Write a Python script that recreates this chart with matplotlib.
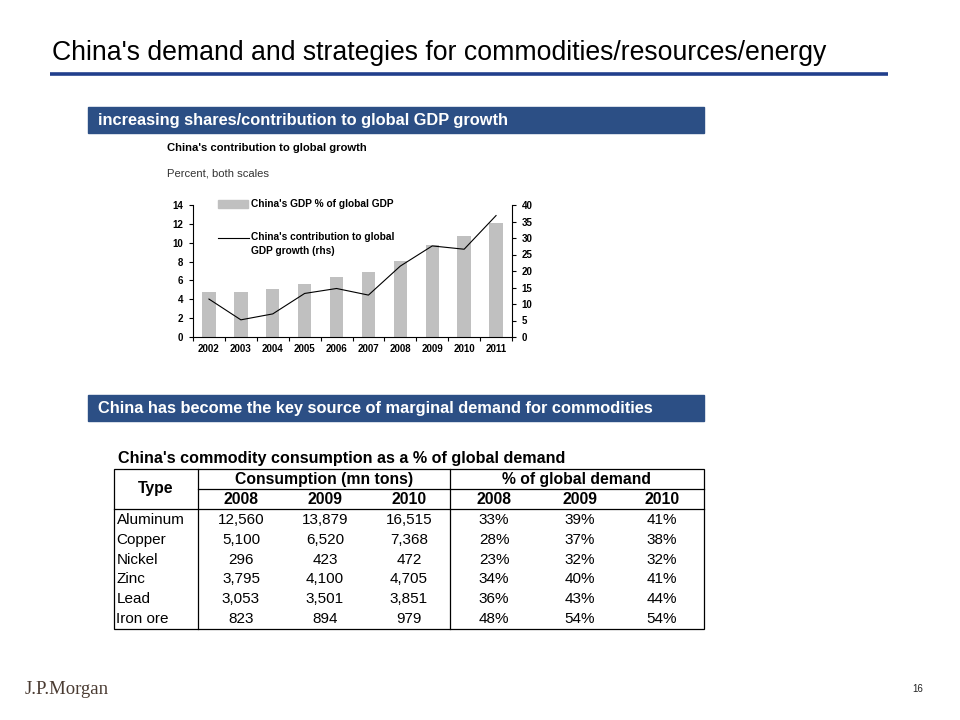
import matplotlib
matplotlib.use('Agg')
import matplotlib.pyplot as plt
from matplotlib.patches import Rectangle
from matplotlib.ticker import FixedLocator

# ---------------- data ----------------
years = ['2002', '2003', '2004', '2005', '2006', '2007', '2008', '2009', '2010', '2011']
gdp_share = [4.75, 4.75, 5.07, 5.6, 6.35, 6.88, 8.08, 9.74, 10.7, 12.08]
gdp_contrib = [11.5, 5.2, 7.0, 13.2, 14.7, 12.7, 21.5, 27.6, 26.6, 36.8]
left_ticks = [0, 2, 4, 6, 8, 10, 12, 14]
right_ticks = [0, 5, 10, 15, 20, 25, 30, 35, 40]

commodities = ['Aluminum', 'Copper', 'Nickel', 'Zinc', 'Lead', 'Iron ore']
table_years = ['2008', '2009', '2010']
cons_2008 = ['12,560', '5,100', '296', '3,795', '3,053', '823']
cons_2009 = ['13,879', '6,520', '423', '4,100', '3,501', '894']
cons_2010 = ['16,515', '7,368', '472', '4,705', '3,851', '979']
share_2008 = ['33%', '28%', '23%', '34%', '36%', '48%']
share_2009 = ['39%', '37%', '32%', '40%', '43%', '54%']
share_2010 = ['41%', '38%', '32%', '41%', '44%', '54%']

plt.rcParams['font.family'] = ['Liberation Sans', 'DejaVu Sans']

BLUE = '#2C4F85'
GREY = '#C0C0C0'

fig = plt.figure(figsize=(9.6, 7.2), dpi=100)
bg = fig.add_axes([0, 0, 1, 1])
bg.set_xlim(0, 960)
bg.set_ylim(720, 0)
bg.axis('off')

# ---------------- page title ----------------
bg.text(52, 53, "China's demand and strategies for commodities/resources/energy",
        fontsize=19.2, va='center', ha='left', color='black')
bg.plot([50, 888], [73.5, 73.5], color='#213F8C', lw=2.6, solid_capstyle='butt')

# ---------------- section headers ----------------
bg.add_patch(Rectangle((88, 107), 616, 26, color=BLUE))
bg.text(98, 120, 'increasing shares/contribution to global GDP growth',
        fontsize=11.8, fontweight='bold', color='white', va='center', ha='left')
bg.add_patch(Rectangle((88, 395), 616, 26, color=BLUE))
bg.text(98, 408, 'China has become the key source of marginal demand for commodities',
        fontsize=11.8, fontweight='bold', color='white', va='center', ha='left')

# ---------------- chart ----------------
bg.text(167, 148, "China's contribution to global growth", fontsize=8.1, fontweight='bold',
        va='center', ha='left')
bg.text(167, 173, 'Percent, both scales', fontsize=8.1, color='#333333', va='center', ha='left')

ax = fig.add_axes([193 / 960, (720 - 337) / 720, (512 - 193) / 960, (337 - 205) / 720])
x = list(range(len(years)))
ax.bar(x, gdp_share, width=0.42, color=GREY, zorder=2)
ax.set_xlim(-0.5, len(years) - 0.5)
ax.set_ylim(left_ticks[0], left_ticks[-1])
ax.set_yticks(left_ticks)
ax.set_xticks(x)
ax.set_xticklabels(years)
ax.xaxis.set_minor_locator(FixedLocator([i - 0.5 for i in range(len(years) + 1)]))
ax.tick_params(axis='x', which='major', length=0, pad=5, labelsize=7)
ax.tick_params(axis='x', which='minor', length=3, direction='out', width=0.8)
ax.tick_params(axis='y', length=3, direction='out', width=0.8, labelsize=7, pad=4)
for lab in ax.get_xticklabels() + ax.get_yticklabels():
    lab.set_fontweight('bold')
ax.spines['top'].set_visible(False)
ax.spines['right'].set_visible(False)
for s in ['left', 'bottom']:
    ax.spines[s].set_linewidth(0.8)

ax2 = ax.twinx()
ax2.plot(x, gdp_contrib, color='black', lw=0.8, zorder=3)
ax2.set_ylim(right_ticks[0], right_ticks[-1])
ax2.set_yticks(right_ticks)
ax2.tick_params(axis='y', length=3, direction='out', width=0.8, labelsize=7, pad=4)
for lab in ax2.get_yticklabels():
    lab.set_fontweight('bold')
for s in ['top', 'left', 'bottom']:
    ax2.spines[s].set_visible(False)
ax2.spines['right'].set_linewidth(0.8)

# legend on a transparent overlay above the chart
fg = fig.add_axes([0, 0, 1, 1], zorder=20)
fg.set_xlim(0, 960)
fg.set_ylim(720, 0)
fg.axis('off')
fg.patch.set_visible(False)
fg.add_patch(Rectangle((218, 200), 30, 8, color=GREY))
fg.text(251, 204, "China's GDP % of global GDP", fontsize=7.3, fontweight='bold', va='center', ha='left')
fg.plot([218, 249], [237.5, 237.5], color='black', lw=0.8)
fg.text(251, 237.5, "China's contribution to global", fontsize=7.3, fontweight='bold', va='center', ha='left')
fg.text(251, 251.5, 'GDP growth (rhs)', fontsize=7.3, fontweight='bold', va='center', ha='left')

# ---------------- table ----------------
bg.text(118, 459, "China's commodity consumption as a % of global demand",
        fontsize=11.6, fontweight='bold', va='center', ha='left')

L, R, T, B = 114, 704, 469, 629
c1, c2 = 198, 450
h_mid, h_bot = 488.5, 509
lw = 0.9
bg.add_patch(Rectangle((L, T), R - L, B - T, fill=False, ec='black', lw=lw))
bg.plot([c1, R], [h_mid, h_mid], color='black', lw=lw)
bg.plot([L, R], [h_bot, h_bot], color='black', lw=lw)
bg.plot([c1, c1], [T, B], color='black', lw=lw)
bg.plot([c2, c2], [T, B], color='black', lw=lw)

HS = 11.3
bg.text((L + c1) / 2, (T + h_bot) / 2, 'Type', fontsize=HS, fontweight='bold', ha='center', va='center')
bg.text((c1 + c2) / 2, (T + h_mid) / 2 + 0.5, 'Consumption (mn tons)', fontsize=HS, fontweight='bold',
        ha='center', va='center')
bg.text((c2 + R) / 2, (T + h_mid) / 2 + 0.5, '% of global demand', fontsize=HS, fontweight='bold',
        ha='center', va='center')

cons_x = [241, 325, 409]
share_x = [494, 580, 662]
for xx, yr in zip(cons_x + share_x, table_years + table_years):
    bg.text(xx, 499.5, yr, fontsize=HS, fontweight='bold', ha='center', va='center')

columns = [cons_2008, cons_2009, cons_2010, share_2008, share_2009, share_2010]
row_y0, row_dy = 520, 19.8
DS = 11
for i, name in enumerate(commodities):
    yy = row_y0 + i * row_dy
    bg.text(116.5, yy, name, fontsize=DS, ha='left', va='center')
    for xx, col in zip(cons_x + share_x, columns):
        bg.text(xx, yy, col[i], fontsize=DS, ha='center', va='center')

# ---------------- footer ----------------
bg.text(25, 689, 'J.P.Morgan', fontsize=13.5, color='#4A3B32', family=['Liberation Serif', 'DejaVu Serif'],
        va='center', ha='left')
bg.text(918, 689, '16', fontsize=7, color='#222222', va='center', ha='center')

fig.savefig('out.png', dpi=100)
